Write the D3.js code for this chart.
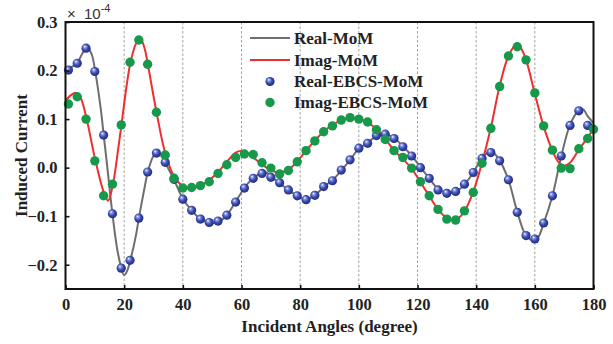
<!DOCTYPE html>
<html>
<head>
<meta charset="utf-8">
<script src="https://cdn.jsdelivr.net/npm/d3@7"></script>
<style>
  html, body { margin: 0; padding: 0; background: #fff; }
  svg { display: block; }
</style>
</head>
<body>
<svg id="chart" width="613" height="344"></svg>
<script>
// Induced current (×10^-4) versus incident angle: MoM reference curves and EBCS-MoM samples

// Reference MoM curves (angle in degrees, value)
const realMomAngles = [0, 2, 4, 6, 7.5, 9, 10, 12, 13, 14, 16, 18, 20, 21, 22, 24, 25, 27, 28, 30, 31.5, 33, 34, 37, 40, 43, 46, 49, 51, 53, 55, 58, 61, 64, 67, 68.5, 70, 73, 76, 79, 82, 85, 88, 91, 94, 97, 100, 103, 106, 109, 112, 115, 118, 121, 124, 127, 130, 133, 136, 139, 142, 144.5, 146, 148, 151, 154, 157, 159.5, 161, 163, 166, 169, 172, 175, 176.5, 178, 180];
const realMomValues = [0.198, 0.207, 0.216, 0.238, 0.248, 0.232, 0.203, 0.122, 0.068, 0.015, -0.095, -0.180, -0.221, -0.213, -0.193, -0.140, -0.104, -0.040, -0.010, 0.024, 0.032, 0.021, 0.010, -0.025, -0.064, -0.088, -0.106, -0.113, -0.114, -0.109, -0.098, -0.070, -0.042, -0.021, -0.011, -0.010, -0.018, -0.032, -0.046, -0.058, -0.065, -0.057, -0.040, -0.026, -0.006, 0.016, 0.039, 0.051, 0.065, 0.069, 0.061, 0.044, 0.025, 0.001, -0.022, -0.044, -0.052, -0.050, -0.035, -0.010, 0.020, 0.033, 0.030, 0.015, -0.025, -0.091, -0.140, -0.150, -0.145, -0.115, -0.058, 0.023, 0.088, 0.118, 0.120, 0.106, 0.092];

const imagMomAngles = [0, 2, 3.5, 5, 7, 10, 13, 14.5, 16, 18, 19, 22, 24, 25.5, 27, 28, 31, 34, 37, 40, 43, 46, 49, 52, 55, 58, 60, 62, 64, 67, 70, 72.5, 76, 79, 82, 85, 88, 91, 94, 97, 100, 103, 106, 109, 112, 115, 118, 121, 124, 127, 130, 132, 134, 136, 139, 142, 145, 148, 151, 153.5, 155, 157, 160, 163, 166, 168, 170, 172, 175, 178, 180];
const imagMomValues = [0.138, 0.150, 0.154, 0.146, 0.106, 0.020, -0.050, -0.068, -0.040, 0.040, 0.085, 0.212, 0.255, 0.266, 0.245, 0.215, 0.115, 0.030, -0.018, -0.038, -0.043, -0.037, -0.026, -0.009, 0.012, 0.031, 0.034, 0.030, 0.021, 0.006, -0.005, -0.010, -0.004, 0.013, 0.035, 0.056, 0.074, 0.088, 0.098, 0.102, 0.100, 0.093, 0.079, 0.059, 0.036, 0.018, -0.002, -0.030, -0.058, -0.086, -0.104, -0.109, -0.104, -0.090, -0.050, 0.010, 0.082, 0.168, 0.230, 0.252, 0.248, 0.222, 0.152, 0.085, 0.035, 0.012, 0.004, 0.010, 0.037, 0.062, 0.080];

// EBCS-MoM samples
const realEbcsAngles = [1, 4, 7, 10, 13, 16, 19, 22, 25, 28, 31, 34, 37, 40, 43, 46, 49, 52, 55, 58, 61, 64, 67, 70, 73, 76, 79, 82, 85, 88, 91, 94, 97, 100, 103, 106, 109, 112, 115, 118, 121, 124, 127, 130, 133, 136, 139, 142, 145, 148, 151, 154, 157, 160, 163, 166, 169, 172, 175, 178];
const realEbcsValues = [0.201, 0.215, 0.246, 0.198, 0.067, -0.095, -0.207, -0.191, -0.104, -0.009, 0.030, 0.011, -0.024, -0.065, -0.088, -0.106, -0.113, -0.110, -0.098, -0.071, -0.042, -0.022, -0.012, -0.020, -0.031, -0.046, -0.058, -0.066, -0.057, -0.039, -0.027, -0.005, 0.016, 0.040, 0.050, 0.066, 0.069, 0.060, 0.043, 0.024, 0.000, -0.022, -0.046, -0.053, -0.049, -0.034, -0.010, 0.019, 0.031, 0.014, -0.025, -0.092, -0.140, -0.147, -0.114, -0.058, 0.024, 0.087, 0.117, 0.087];

const imagEbcsAngles = [1, 4, 7, 10, 13, 16, 19, 22, 25, 28, 31, 34, 37, 40, 43, 46, 49, 52, 55, 58, 61, 64, 67, 70, 73, 76, 79, 82, 85, 88, 91, 94, 97, 100, 103, 106, 109, 112, 115, 118, 121, 124, 127, 130, 133, 136, 139, 142, 145, 148, 151, 154, 157, 160, 163, 166, 169, 172, 175, 178, 180];
const imagEbcsValues = [0.131, 0.146, 0.100, 0.014, -0.058, -0.034, 0.088, 0.217, 0.263, 0.213, 0.114, 0.026, -0.022, -0.042, -0.041, -0.037, -0.029, -0.012, 0.006, 0.021, 0.028, 0.027, 0.010, -0.001, -0.013, -0.006, 0.012, 0.035, 0.055, 0.074, 0.086, 0.098, 0.103, 0.100, 0.094, 0.078, 0.058, 0.035, 0.021, -0.001, -0.029, -0.058, -0.086, -0.106, -0.108, -0.089, -0.051, 0.009, 0.081, 0.167, 0.230, 0.249, 0.222, 0.154, 0.086, 0.036, -0.001, -0.002, 0.039, 0.060, 0.079];

// Axis ticks and labels
const xTicks = [0, 20, 40, 60, 80, 100, 120, 140, 160, 180];
const xGrid = [20, 40, 60, 80, 100, 120, 140, 160];
const yTicks = [-0.2, -0.1, 0.0, 0.1, 0.2, 0.3];
const legendLabels = ["Real-MoM", "Imag-MoM", "Real-EBCS-MoM", "Imag-EBCS-MoM"];

const zip = (a, v) => a.map((d, i) => ({ x: d, y: v[i] }));

const svg = d3.select("#chart");
const plotLeft = 65.5, plotRight = 593.5, plotTop = 22, plotBottom = 289;

const x = d3.scaleLinear().domain([0, 180]).range([plotLeft, plotRight]);
const y = d3.scaleLinear().domain([-0.25, 0.3]).range([plotBottom, plotTop]);

const serif = "'Liberation Serif', 'Times New Roman', serif";

// gradient for the shaded blue markers
const defs = svg.append("defs");
const grad = defs.append("radialGradient").attr("id", "ball")
  .attr("cx", "45%").attr("cy", "45%").attr("r", "60%")
  .attr("fx", "35%").attr("fy", "30%");
grad.append("stop").attr("offset", "0%").attr("stop-color", "#ffffff");
grad.append("stop").attr("offset", "22%").attr("stop-color", "#8c9ae0");
grad.append("stop").attr("offset", "55%").attr("stop-color", "#3a4bb0");
grad.append("stop").attr("offset", "100%").attr("stop-color", "#1c2677");

defs.append("clipPath").attr("id", "plotclip")
  .append("rect").attr("x", plotLeft).attr("y", plotTop)
  .attr("width", plotRight - plotLeft).attr("height", plotBottom - plotTop);

// vertical dashed grid
svg.append("g").selectAll("line").data(xGrid).join("line")
  .attr("x1", d => x(d)).attr("x2", d => x(d))
  .attr("y1", plotTop).attr("y2", plotBottom)
  .attr("stroke", "#8a8a8a").attr("stroke-width", 0.8)
  .attr("stroke-dasharray", "2.5,2");

const plot = svg.append("g").attr("clip-path", "url(#plotclip)");

const line = d3.line().x(d => x(d.x)).y(d => y(d.y))
  .curve(d3.curveCatmullRom.alpha(0.5));

plot.append("path").datum(zip(realMomAngles, realMomValues))
  .attr("d", line).attr("fill", "none")
  .attr("stroke", "#6e6e6e").attr("stroke-width", 2);
plot.append("path").datum(zip(imagMomAngles, imagMomValues))
  .attr("d", line).attr("fill", "none")
  .attr("stroke", "#ee2f2f").attr("stroke-width", 2);

const pts = svg.append("g");
pts.selectAll("circle.real").data(zip(realEbcsAngles, realEbcsValues)).join("circle")
  .attr("class", "real")
  .attr("cx", d => x(d.x)).attr("cy", d => y(d.y)).attr("r", 4.6)
  .attr("fill", "url(#ball)");
pts.selectAll("circle.imag").data(zip(imagEbcsAngles, imagEbcsValues)).join("circle")
  .attr("class", "imag")
  .attr("cx", d => x(d.x)).attr("cy", d => y(d.y)).attr("r", 4.7)
  .attr("fill", "#17984a");

// axes with inward ticks
const xAxis = d3.axisBottom(x).tickValues(xTicks).tickSizeInner(-4).tickSizeOuter(0)
  .tickPadding(9).tickFormat(d3.format("d"));
const gx = svg.append("g").attr("transform", `translate(0,${plotBottom})`).call(xAxis);
const yAxis = d3.axisLeft(y).tickValues(yTicks).tickSizeInner(-4).tickSizeOuter(0)
  .tickPadding(8).tickFormat(d3.format(".1f"));
const gy = svg.append("g").attr("transform", `translate(${plotLeft},0)`).call(yAxis);

[gx, gy].forEach(g => {
  g.select(".domain").remove();
  g.selectAll(".tick line").attr("stroke", "#111").attr("stroke-width", 1.6);
  g.selectAll(".tick text").attr("font-family", serif).attr("font-weight", "bold")
    .attr("font-size", 16.5).attr("fill", "#222");
});

// plot frame
svg.append("rect").attr("x", plotLeft).attr("y", plotTop)
  .attr("width", plotRight - plotLeft).attr("height", plotBottom - plotTop)
  .attr("fill", "none").attr("stroke", "#111").attr("stroke-width", 2);

// axis titles
svg.append("text").attr("x", (plotLeft + plotRight) / 2).attr("y", 332)
  .attr("text-anchor", "middle").attr("font-family", serif).attr("font-weight", "bold")
  .attr("font-size", 17).attr("fill", "#222").text("Incident Angles (degree)");
svg.append("text").attr("transform", `translate(27,${(plotTop + plotBottom) / 2}) rotate(-90)`)
  .attr("text-anchor", "middle").attr("font-family", serif).attr("font-weight", "bold")
  .attr("font-size", 17).attr("fill", "#222").text("Induced Current");

// scale multiplier
const mult = svg.append("text").attr("y", 18.5)
  .attr("font-family", "'Liberation Sans', Arial, sans-serif").attr("font-size", 15)
  .attr("fill", "#333");
mult.append("tspan").attr("x", 67).text("×");
mult.append("tspan").attr("x", 84).text("10");
mult.append("tspan").attr("dy", -7).attr("font-size", 11).text("-4");

// legend
const lg = svg.append("g");
const rowY = [38, 60, 81.5, 102.5];
lg.append("line").attr("x1", 250).attr("x2", 290).attr("y1", rowY[0]).attr("y2", rowY[0])
  .attr("stroke", "#6e6e6e").attr("stroke-width", 2);
lg.append("line").attr("x1", 250).attr("x2", 290).attr("y1", rowY[1]).attr("y2", rowY[1])
  .attr("stroke", "#ee2f2f").attr("stroke-width", 2);
lg.append("circle").attr("cx", 270).attr("cy", rowY[2]).attr("r", 4.6).attr("fill", "url(#ball)");
lg.append("circle").attr("cx", 270).attr("cy", rowY[3]).attr("r", 4.7).attr("fill", "#17984a");
lg.selectAll("text").data(legendLabels).join("text")
  .attr("x", 294).attr("y", (d, i) => rowY[i]).attr("dy", "0.34em")
  .attr("font-family", serif).attr("font-weight", "bold").attr("font-size", 17)
  .attr("fill", "#222").text(d => d);
</script>
</body>
</html>
